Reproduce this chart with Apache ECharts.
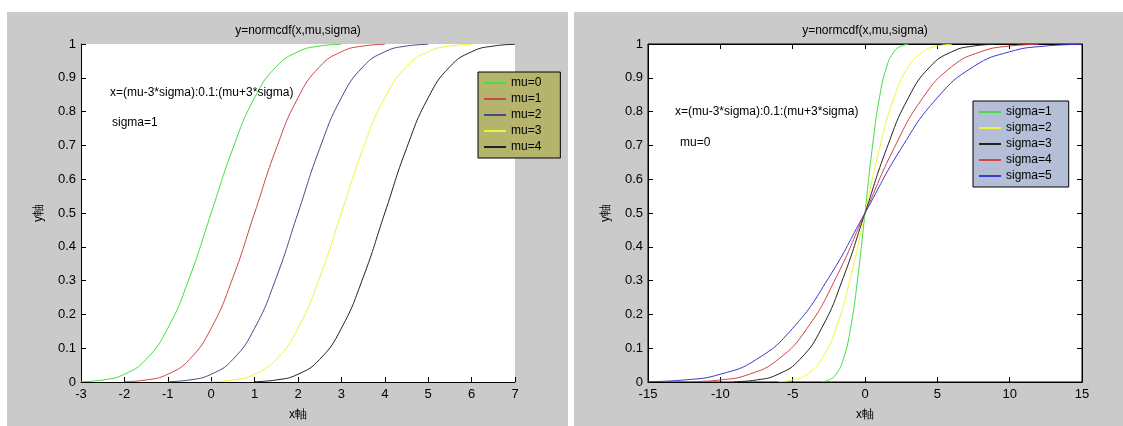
<!DOCTYPE html>
<html>
<head>
<meta charset="utf-8">
<script src="https://cdn.jsdelivr.net/npm/echarts@6/dist/echarts.min.js"></script>
<style>
html, body { margin: 0; padding: 0; background: #fff; }
#main { width: 1123px; height: 426px; }
</style>
</head>
<body>
<div id="main"></div>
<script>
// y values at half-sigma steps from mu-3*sigma to mu+3*sigma
var levelsRead = [0.001, 0.006, 0.023, 0.067, 0.159, 0.309, 0.5, 0.691, 0.841, 0.933, 0.977, 0.994, 0.999];

// left panel: sigma=1, mu = 0..4
var muNames = ['mu=0', 'mu=1', 'mu=2', 'mu=3', 'mu=4'];
var muX = [
    [-3, -2.5, -2, -1.5, -1, -0.5, 0, 0.5, 1, 1.5, 2, 2.5, 3],
    [-2, -1.5, -1, -0.5, 0, 0.5, 1, 1.5, 2, 2.5, 3, 3.5, 4],
    [-1, -0.5, 0, 0.5, 1, 1.5, 2, 2.5, 3, 3.5, 4, 4.5, 5],
    [0, 0.5, 1, 1.5, 2, 2.5, 3, 3.5, 4, 4.5, 5, 5.5, 6],
    [1, 1.5, 2, 2.5, 3, 3.5, 4, 4.5, 5, 5.5, 6, 6.5, 7]
];
var muColors = ['#44dd44', '#c84a4a', '#4a4a88', '#f2f23a', '#222222'];

// right panel: mu=0, sigma = 1..5
var sigmaNames = ['sigma=1', 'sigma=2', 'sigma=3', 'sigma=4', 'sigma=5'];
var sigmaX = [
    [-3, -2.5, -2, -1.5, -1, -0.5, 0, 0.5, 1, 1.5, 2, 2.5, 3],
    [-6, -5, -4, -3, -2, -1, 0, 1, 2, 3, 4, 5, 6],
    [-9, -7.5, -6, -4.5, -3, -1.5, 0, 1.5, 3, 4.5, 6, 7.5, 9],
    [-12, -10, -8, -6, -4, -2, 0, 2, 4, 6, 8, 10, 12],
    [-15, -12.5, -10, -7.5, -5, -2.5, 0, 2.5, 5, 7.5, 10, 12.5, 15]
];
var sigmaColors = ['#44dd44', '#f2f23a', '#222222', '#d04444', '#3a3ad0'];

var FONT = '"Liberation Sans", Arial, sans-serif';

function pairs(xs, ys) {
    var out = [];
    for (var i = 0; i < xs.length; i++) out.push([xs[i], ys[i]]);
    return out;
}

function axisBase(extra) {
    var a = {
        type: 'value',
        axisLine: { show: true, onZero: false, lineStyle: { color: '#000', width: 1 } },
        axisTick: { show: true, inside: true, length: 5, lineStyle: { color: '#000' } },
        axisLabel: { color: '#000', fontSize: 13, fontFamily: FONT },
        splitLine: { show: false },
        nameTextStyle: { color: '#000', fontSize: 12, fontFamily: FONT }
    };
    for (var k in extra) a[k] = extra[k];
    return a;
}

var echart = echarts.init(document.getElementById('main'));

var series = [];
muNames.forEach(function (n, i) {
    series.push({
        name: n, type: 'line', xAxisIndex: 0, yAxisIndex: 0,
        data: pairs(muX[i], levelsRead),
        showSymbol: false, symbol: 'none', smooth: 0.5,
        lineStyle: { width: 1, color: muColors[i] }, itemStyle: { color: muColors[i] },
        silent: true
    });
});
sigmaNames.forEach(function (n, i) {
    series.push({
        name: n, type: 'line', xAxisIndex: 1, yAxisIndex: 1,
        data: pairs(sigmaX[i], levelsRead),
        showSymbol: false, symbol: 'none', smooth: 0.5,
        lineStyle: { width: 1, color: sigmaColors[i] }, itemStyle: { color: sigmaColors[i] },
        silent: true
    });
});

var legendStyle = {
    orient: 'vertical',
    icon: 'rect',
    itemWidth: 22,
    itemHeight: 2,
    itemGap: 4,
    borderColor: '#000',
    borderWidth: 1,
    borderRadius: 0,
    selectedMode: false,
    textStyle: { color: '#000', fontSize: 12, fontFamily: FONT }
};
function legendAt(extra) {
    var l = {};
    for (var k in legendStyle) l[k] = legendStyle[k];
    for (var k2 in extra) l[k2] = extra[k2];
    return l;
}

var option = {
    animation: false,
    backgroundColor: '#fff',
    graphic: [
        { type: 'rect', z: -100, shape: { x: 7, y: 12, width: 561, height: 414 }, style: { fill: '#cacaca' } },
        { type: 'rect', z: -100, shape: { x: 574, y: 12, width: 549, height: 414 }, style: { fill: '#cacaca' } },
        { type: 'text', x: 298, y: 31, style: { text: 'y=normcdf(x,mu,sigma)', fill: '#000', font: '12px ' + FONT, textAlign: 'center', textVerticalAlign: 'middle' } },
        { type: 'text', x: 865, y: 31, style: { text: 'y=normcdf(x,mu,sigma)', fill: '#000', font: '12px ' + FONT, textAlign: 'center', textVerticalAlign: 'middle' } },
        { type: 'text', x: 110, y: 93, z: 10, style: { text: 'x=(mu-3*sigma):0.1:(mu+3*sigma)', fill: '#000', font: '12px ' + FONT, textVerticalAlign: 'middle' } },
        { type: 'text', x: 112, y: 123, z: 10, style: { text: 'sigma=1', fill: '#000', font: '12px ' + FONT, textVerticalAlign: 'middle' } },
        { type: 'text', x: 675, y: 112, z: 10, style: { text: 'x=(mu-3*sigma):0.1:(mu+3*sigma)', fill: '#000', font: '12px ' + FONT, textVerticalAlign: 'middle' } },
        { type: 'text', x: 680, y: 143, z: 10, style: { text: 'mu=0', fill: '#000', font: '12px ' + FONT, textVerticalAlign: 'middle' } }
    ],
    legend: [
        legendAt({ data: muNames, left: 478, top: 72, backgroundColor: '#b4b46c', padding: [5, 19, 5, 6] }),
        legendAt({ data: sigmaNames, left: 973, top: 101, backgroundColor: '#b4bed6', padding: [5, 17, 5, 6] })
    ],
    grid: [
        { left: 81, top: 44, width: 434, height: 342, show: true, backgroundColor: '#fff', borderWidth: 0 },
        { left: 648, top: 44, width: 434, height: 342, show: true, backgroundColor: '#fff', borderColor: '#000', borderWidth: 1 }
    ],
    xAxis: [
        axisBase({ gridIndex: 0, min: -3, max: 7, interval: 1, name: 'x軸', nameLocation: 'middle', nameGap: 27,
            axisLabel: { color: '#000', fontSize: 13, fontFamily: FONT, margin: 6 } }),
        axisBase({ gridIndex: 1, min: -15, max: 15, interval: 5, name: 'x軸', nameLocation: 'middle', nameGap: 27,
            axisLabel: { color: '#000', fontSize: 13, fontFamily: FONT, margin: 6 } }),
        axisBase({ gridIndex: 1, min: -15, max: 15, interval: 5, position: 'top',
            axisLabel: { show: false } })
    ],
    yAxis: [
        axisBase({ gridIndex: 0, min: 0, max: 1, interval: 0.1, name: 'y軸', nameLocation: 'middle', nameGap: 36, nameRotate: 90,
            axisLabel: { color: '#000', fontSize: 13, fontFamily: FONT, margin: 5 } }),
        axisBase({ gridIndex: 1, min: 0, max: 1, interval: 0.1, name: 'y軸', nameLocation: 'middle', nameGap: 36, nameRotate: 90,
            axisLabel: { color: '#000', fontSize: 13, fontFamily: FONT, margin: 5 } }),
        axisBase({ gridIndex: 1, min: 0, max: 1, interval: 0.1, position: 'right',
            axisLabel: { show: false } })
    ],
    series: series
};

echart.setOption(option);
</script>
</body>
</html>
